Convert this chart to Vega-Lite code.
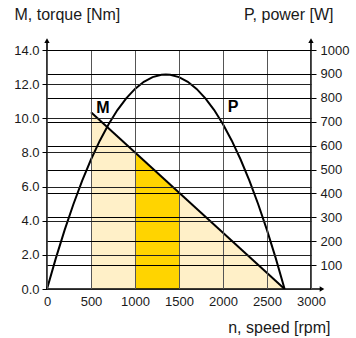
{
  "$schema": "https://vega.github.io/schema/vega-lite/v6.json",
  "width": 264,
  "height": 239,
  "autosize": {"type": "none"},
  "padding": {"left": 47, "top": 50, "right": 45, "bottom": 49},
  "background": "white",
  "config": {
    "view": {"stroke": null},
    "font": "Liberation Sans",
    "axis": {
      "labelFont": "Liberation Sans",
      "labelFontSize": 13,
      "labelColor": "#1a1a1a",
      "titleFont": "Liberation Sans",
      "titleFontSize": 16,
      "titleFontWeight": "normal",
      "titleColor": "#1a1a1a"
    }
  },
  "datasets": {
    "power": [
      {"n": 0, "P": 0}, {"n": 100, "P": 128.1}, {"n": 200, "P": 246.3}, {"n": 300, "P": 354.7},
      {"n": 400, "P": 453.2}, {"n": 500, "P": 541.8}, {"n": 600, "P": 620.6}, {"n": 700, "P": 689.6},
      {"n": 800, "P": 748.7}, {"n": 900, "P": 798.0}, {"n": 1000, "P": 837.4}, {"n": 1100, "P": 866.9},
      {"n": 1200, "P": 886.6}, {"n": 1300, "P": 896.5}, {"n": 1350, "P": 897.7}, {"n": 1400, "P": 896.5},
      {"n": 1500, "P": 886.6}, {"n": 1600, "P": 866.9}, {"n": 1700, "P": 837.4}, {"n": 1800, "P": 798.0},
      {"n": 1900, "P": 748.7}, {"n": 2000, "P": 689.6}, {"n": 2100, "P": 620.6}, {"n": 2200, "P": 541.8},
      {"n": 2300, "P": 453.2}, {"n": 2400, "P": 354.7}, {"n": 2500, "P": 246.3}, {"n": 2600, "P": 128.1},
      {"n": 2700, "P": 0}
    ],
    "torque": [{"n": 500, "M": 10.35}, {"n": 2700, "M": 0}],
    "gold": [{"n": 1000, "M": 8.0}, {"n": 1500, "M": 5.65}],
    "labels": [{"n": 636, "M": 10.6, "t": "M"}, {"n": 2114, "M": 10.66, "t": "P"}],
    "axlines": [
      {"g": "x", "n": 0, "M": 0}, {"g": "x", "n": 3110, "M": 0},
      {"g": "l", "n": 0, "M": 0}, {"g": "l", "n": 0, "M": 14.5},
      {"g": "r", "n": 3000, "M": 0}, {"g": "r", "n": 3000, "M": 14.5}
    ],
    "uparrows": [{"n": 0, "M": 14.55}, {"n": 3000, "M": 14.55}],
    "rightarrows": [{"n": 3125, "M": 0}]
  },
  "encoding": {
    "x": {
      "field": "n",
      "type": "quantitative",
      "scale": {"domain": [0, 3000], "nice": false},
      "axis": {
        "values": [0, 500, 1000, 1500, 2000, 2500, 3000],
        "format": "d",
        "grid": true,
        "gridColor": "#555555",
        "gridWidth": 1,
        "domain": false,
        "ticks": false,
        "labelPadding": 6,
        "labelFlush": false,
        "zindex": 1,
        "title": "n, speed [rpm]",
        "titleAngle": 0,
        "titleX": 283,
        "titleY": 38,
        "titleAlign": "right",
        "titleBaseline": "middle"
      }
    }
  },
  "layer": [
    {
      "encoding": {
        "y": {
          "field": "M",
          "type": "quantitative",
          "scale": {"domain": [0, 14], "nice": false},
          "axis": {
            "orient": "left",
            "values": [0, 2, 4, 6, 8, 10, 12, 14],
            "format": ".1f",
            "grid": true,
            "gridColor": "#222222",
            "gridWidth": 1,
            "domain": false,
            "ticks": true,
            "tickSize": 5,
            "tickColor": "#000000",
            "tickWidth": 1,
            "labelPadding": 3,
            "labelFlush": false,
            "zindex": 1,
            "title": "M, torque [Nm]",
            "titleAngle": 0,
            "titleX": -33,
            "titleY": -36,
            "titleAlign": "left",
            "titleBaseline": "middle"
          }
        }
      },
      "layer": [
        {
          "data": {"name": "torque"},
          "mark": {"type": "area", "color": "#FFF0C8", "opacity": 1},
          "encoding": {"y2": {"datum": 0}}
        },
        {
          "data": {"name": "gold"},
          "mark": {"type": "area", "color": "#FFD400", "opacity": 1},
          "encoding": {"y2": {"datum": 0}}
        },
        {
          "data": {"name": "torque"},
          "mark": {"type": "line", "color": "#000000", "strokeWidth": 2},
          "encoding": {}
        },
        {
          "data": {"name": "axlines"},
          "mark": {"type": "line", "color": "#000000", "strokeWidth": 1.6},
          "encoding": {"detail": {"field": "g"}}
        },
        {
          "data": {"name": "uparrows"},
          "mark": {"type": "point", "shape": "triangle-up", "filled": true, "color": "#000000", "size": 28, "opacity": 1},
          "encoding": {}
        },
        {
          "data": {"name": "rightarrows"},
          "mark": {"type": "point", "shape": "triangle-right", "filled": true, "color": "#000000", "size": 28, "opacity": 1},
          "encoding": {}
        },
        {
          "data": {"name": "labels"},
          "mark": {"type": "text", "font": "Liberation Sans", "fontSize": 16, "fontWeight": "bold", "color": "#000000", "align": "center", "baseline": "middle"},
          "encoding": {"text": {"field": "t"}}
        }
      ]
    },
    {
      "data": {"name": "power"},
      "mark": {"type": "line", "color": "#000000", "strokeWidth": 2},
      "encoding": {
        "y": {
          "field": "P",
          "type": "quantitative",
          "scale": {"domain": [0, 1000], "nice": false},
          "axis": {
            "orient": "right",
            "values": [100, 200, 300, 400, 500, 600, 700, 800, 900, 1000],
            "format": "d",
            "grid": true,
            "gridColor": "#000000",
            "gridWidth": 1,
            "domain": false,
            "ticks": true,
            "tickSize": 5,
            "tickColor": "#000000",
            "tickWidth": 1,
            "labelPadding": 4,
            "labelFlush": false,
            "zindex": 1,
            "title": "P, power [W]",
            "titleAngle": 0,
            "titleX": 22,
            "titleY": -36,
            "titleAlign": "right",
            "titleBaseline": "middle"
          }
        }
      }
    }
  ],
  "resolve": {"scale": {"y": "independent"}}
}
